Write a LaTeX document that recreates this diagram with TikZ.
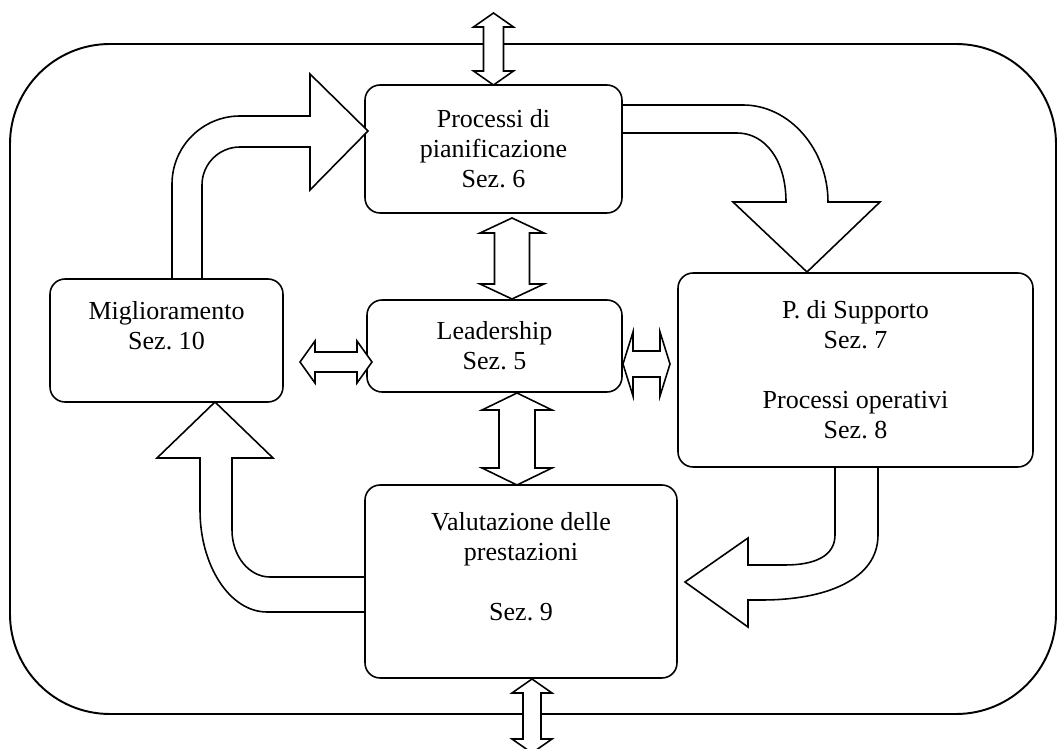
\documentclass[tikz,border=0pt]{standalone}
\usepackage{fontspec}
\setmainfont{Liberation Serif}
\usetikzlibrary{calc}
\frenchspacing
% vertical double block arrow: cx, ytop, ybot, head half, shaft half, head length
\newcommand\vdarr[6]{%
\draw[blk] (#1,#2) -- ({#1+#4},{#2+#6}) -- ({#1+#5},{#2+#6}) -- ({#1+#5},{#3-#6}) -- ({#1+#4},{#3-#6}) -- (#1,#3) -- ({#1-#4},{#3-#6}) -- ({#1-#5},{#3-#6}) -- ({#1-#5},{#2+#6}) -- ({#1-#4},{#2+#6}) -- cycle;}
% horizontal double block arrow: cy, xleft, xright, head half, shaft half, head length
\newcommand\hdarr[6]{%
\draw[blk] (#2,#1) -- ({#2+#6},{#1-#4}) -- ({#2+#6},{#1-#5}) -- ({#3-#6},{#1-#5}) -- ({#3-#6},{#1-#4}) -- (#3,#1) -- ({#3-#6},{#1+#4}) -- ({#3-#6},{#1+#5}) -- ({#2+#6},{#1+#5}) -- ({#2+#6},{#1+#4}) -- cycle;}
\begin{document}
\begin{tikzpicture}[x=0.02cm,y=-0.02cm,
  box/.style={draw,line width=0.9pt,rounded corners=0.3cm,fill=white,inner sep=0pt,align=center,
              font=\fontsize{14.8}{17.07}\selectfont\frenchspacing},
  blk/.style={draw,line width=0.9pt,fill=white,line join=miter},
  frame/.style={draw,line width=1.1pt,rounded corners=2cm}]
\useasboundingbox (0,0) rectangle (1059,749);
% outer frame
\draw[frame] (10,44) rectangle (1056,714);

% boxes
\node[box,minimum width=5.14cm,minimum height=2.56cm] (proc) at (493.5,149) {Processi di\\pianificazione\\Sez. 6};
\node[box,minimum width=5.1cm,minimum height=1.84cm] (lead) at (494.5,346) {Leadership\\Sez. 5};
\node[box,minimum width=4.66cm,minimum height=2.46cm] (mig) at (166.5,340.5) {Miglioramento\\Sez. 10\\\mbox{}};
\node[box,minimum width=7.1cm,minimum height=3.88cm] (sup) at (855.5,370) {P. di Supporto\\Sez. 7\\[17.07pt]Processi operativi\\Sez. 8};
\node[box,minimum width=6.24cm,minimum height=3.86cm] (val) at (521,581.5) {Valutazione delle\\prestazioni\\[17.07pt]Sez. 9\\\mbox{}};

% curved block arrows
% Miglioramento -> Processi
\draw[blk] (172,279) -- (172,184) .. controls (172,146.5) and (202.5,116) .. (240,116)
  -- (310,116) -- (310,74) -- (368,131) -- (310,190) -- (310,147) -- (240,147)
  .. controls (219,147) and (202,164) .. (202,185) -- (202,279) -- cycle;
% Processi -> Supporto
\draw[blk] (622,105) -- (743,105) .. controls (790,105) and (828,150) .. (828,202)
  -- (880,202) -- (807,272) -- (733,202) -- (786,202)
  .. controls (786,160) and (765,133) .. (737,133) -- (622,133) -- cycle;
% Supporto -> Valutazione
\draw[blk] (835,467) -- (835,535) .. controls (835,556) and (815,565) .. (785,565)
  -- (748,565) -- (748,538) -- (685,582) -- (748,627) -- (748,600) -- (762,600)
  .. controls (825,600) and (878,580) .. (878,535) -- (878,467) -- cycle;
% Valutazione -> Miglioramento
\draw[blk] (365,577) -- (270,577) .. controls (249,577) and (232,556) .. (232,530)
  -- (232,458) -- (273,458) -- (215,402) -- (157,458) -- (200,458) -- (200,510)
  .. controls (200,566) and (230,612) .. (267,612) -- (365,612) -- cycle;

% double block arrows
\vdarr{493.5}{13}{85}{20}{10}{14}
\vdarr{512}{218}{299}{32}{17.5}{15}
\vdarr{517}{393}{485}{35}{18}{17}
\vdarr{532}{679}{753}{20}{9}{14}
\hdarr{362}{300}{372}{21}{10}{15}
\hdarr{364}{623}{670}{32}{13}{10}
\end{tikzpicture}
\end{document}
